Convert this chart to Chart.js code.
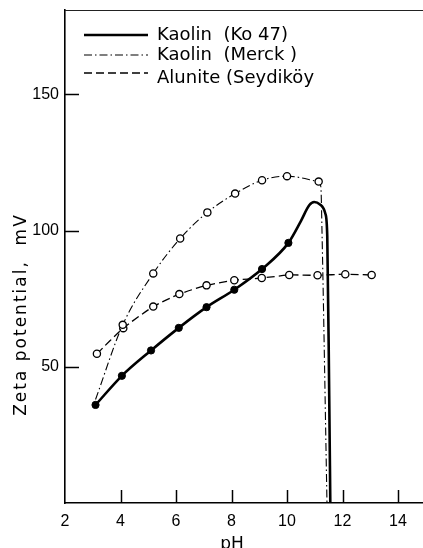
<!DOCTYPE html>
<html>
<head>
<meta charset="utf-8">
<script src="https://cdn.jsdelivr.net/npm/chart.js@4/dist/chart.umd.min.js"></script>
<style>
html,body{margin:0;padding:0;background:#fff;overflow:hidden;}
#wrap{width:423px;height:548px;position:relative;}
canvas{display:block;}
</style>
</head>
<body>
<div id="wrap"><canvas id="c" width="423" height="548"></canvas></div>
<script>
// ---- data ----
const seriesNames = ["Kaolin  (Ko 47)", "Kaolin  (Merck )", "Alunite (Seydiköy"];

const ko47PH   = [3.1, 4.05, 5.1, 6.1, 7.1, 8.1, 9.1, 10.05, 10.5, 10.8, 10.98, 11.2, 11.38, 11.45, 11.52, 11.56];
const ko47Zeta = [36, 46.7, 56, 64.3, 71.9, 78.3, 85.9, 95.5, 103.5, 109.3, 110.5, 109.5, 106.3, 98, 40, 0];
const ko47Mark = [1, 1, 1, 1, 1, 1, 1, 1, 0, 0, 0, 0, 0, 0, 0, 0];

const merckPH   = [3.1, 4.08, 5.18, 6.15, 7.13, 8.13, 9.1, 10.0, 11.14, 11.22, 11.26, 11.44];
const merckZeta = [38, 65.4, 84.3, 97.1, 106.7, 113.6, 118.5, 120, 118, 116, 100, 0];
const merckMark = [0, 1, 1, 1, 1, 1, 1, 1, 1, 0, 0, 0];

const aluPH   = [3.15, 4.1, 5.18, 6.12, 7.1, 8.1, 9.09, 10.08, 11.1, 12.1, 13.05];
const aluZeta = [54.8, 64.2, 72.1, 76.7, 79.9, 81.8, 82.6, 83.7, 83.6, 84, 83.7];
const aluMark = [1, 1, 1, 1, 1, 1, 1, 1, 1, 1, 1];

const xTicks = [2, 4, 6, 8, 10, 12, 14];
const yTicks = [50, 100, 150];
const xTitle = "pH";
const yTitle = "Zeta potential,  mV";

// ---- helpers ----
function pts(xs, ys){ return xs.map((x,i)=>({x:x, y:ys[i]})); }
function radii(m){ return m.map(v=>v?3.6:0); }

const FONT = "'DejaVu Sans', sans-serif";
const TICKFONT = "'Liberation Sans', Arial, sans-serif";

const inwardTicks = {
  id:'inwardTicks',
  afterDraw(chart){
    const ctx = chart.ctx, a = chart.chartArea;
    const xs = chart.scales.x, ys = chart.scales.y;
    ctx.save();
    ctx.strokeStyle = '#000';
    ctx.lineWidth = 1.5;
    xTicks.slice(1).forEach(v=>{
      const px = Math.round(xs.getPixelForValue(v)) + 0.5;
      ctx.beginPath(); ctx.moveTo(px, a.bottom); ctx.lineTo(px, a.bottom-13); ctx.stroke();
    });
    yTicks.forEach(v=>{
      const py = Math.round(ys.getPixelForValue(v)) + 0.5;
      ctx.beginPath(); ctx.moveTo(a.left, py); ctx.lineTo(a.left+14, py); ctx.stroke();
    });
    // top frame line
    ctx.lineWidth = 1;
    ctx.strokeStyle = '#222';
    ctx.beginPath(); ctx.moveTo(a.left, a.top+0.5); ctx.lineTo(a.right, a.top+0.5); ctx.stroke();

    // axis titles
    ctx.fillStyle = '#000';
    ctx.font = "17px " + FONT;
    ctx.textAlign = 'center';
    ctx.textBaseline = 'alphabetic';
    ctx.fillText(xTitle, 232, 549);
    ctx.save();
    ctx.translate(26, 314.5);
    ctx.rotate(-Math.PI/2);
    try { ctx.letterSpacing = '2px'; } catch(e){}
    ctx.fillText(yTitle, 0, 0);
    ctx.restore();

    // legend
    const lineY = [35, 55, 73];
    const textY = [40, 60, 83];
    ctx.font = "18px " + FONT;
    ctx.textAlign = 'left';
    chart.data.datasets.forEach((ds,i)=>{
      ctx.save();
      ctx.strokeStyle = '#000';
      ctx.lineWidth = ds.borderWidth;
      ctx.setLineDash(ds.borderDash || []);
      ctx.beginPath(); ctx.moveTo(84, lineY[i]); ctx.lineTo(148, lineY[i]); ctx.stroke();
      ctx.restore();
      ctx.fillText(ds.label, 157, textY[i]);
    });
    ctx.restore();
  }
};

function noPad(s){ s.paddingLeft = 0; s.paddingRight = 0; s.paddingTop = 0; s.paddingBottom = 0; }

new Chart(document.getElementById('c'), {
  type: 'line',
  data: {
    datasets: [
      {
        label: seriesNames[0],
        data: pts(ko47PH, ko47Zeta),
        borderColor: '#000', borderWidth: 2.6,
        pointRadius: radii(ko47Mark), pointBackgroundColor: '#000', pointBorderColor: '#000',
        pointBorderWidth: 1,
        cubicInterpolationMode: 'monotone', fill: false
      },
      {
        label: seriesNames[1],
        data: pts(merckPH, merckZeta),
        borderColor: '#000', borderWidth: 1.1, borderDash: [8, 3, 1.5, 3],
        pointRadius: radii(merckMark), pointBackgroundColor: '#fff', pointBorderColor: '#000',
        pointBorderWidth: 1.3,
        cubicInterpolationMode: 'monotone', fill: false
      },
      {
        label: seriesNames[2],
        data: pts(aluPH, aluZeta),
        borderColor: '#000', borderWidth: 1.3, borderDash: [8, 4],
        pointRadius: radii(aluMark), pointBackgroundColor: '#fff', pointBorderColor: '#000',
        pointBorderWidth: 1.3,
        tension: 0.2, fill: false
      }
    ]
  },
  options: {
    responsive: false,
    animation: false,
    devicePixelRatio: 1,
    layout: { autoPadding: false, padding: { left: 0, right: 0, top: 10, bottom: 0 } },
    plugins: { legend: { display: false }, tooltip: { enabled: false } },
    scales: {
      x: {
        type: 'linear', min: 2, max: 14.9,
        grid: { display: false, drawTicks: false },
        border: { display: true, color: '#000', width: 1.6 },
        ticks: { color: '#000', font: { family: TICKFONT, size: 16 }, padding: 9, maxRotation: 0 },
        afterBuildTicks(s){ s.ticks = xTicks.map(v=>({value:v})); },
        afterFit(s){ s.height = 45; noPad(s); }
      },
      y: {
        type: 'linear', min: 0, max: 181,
        grid: { display: false, drawTicks: false },
        border: { display: true, color: '#000', width: 1.6 },
        ticks: { color: '#000', font: { family: TICKFONT, size: 16 }, padding: 6 },
        afterBuildTicks(s){ s.ticks = yTicks.map(v=>({value:v})); },
        afterFit(s){ s.width = 65; noPad(s); }
      }
    }
  },
  plugins: [inwardTicks]
});
</script>
</body>
</html>
